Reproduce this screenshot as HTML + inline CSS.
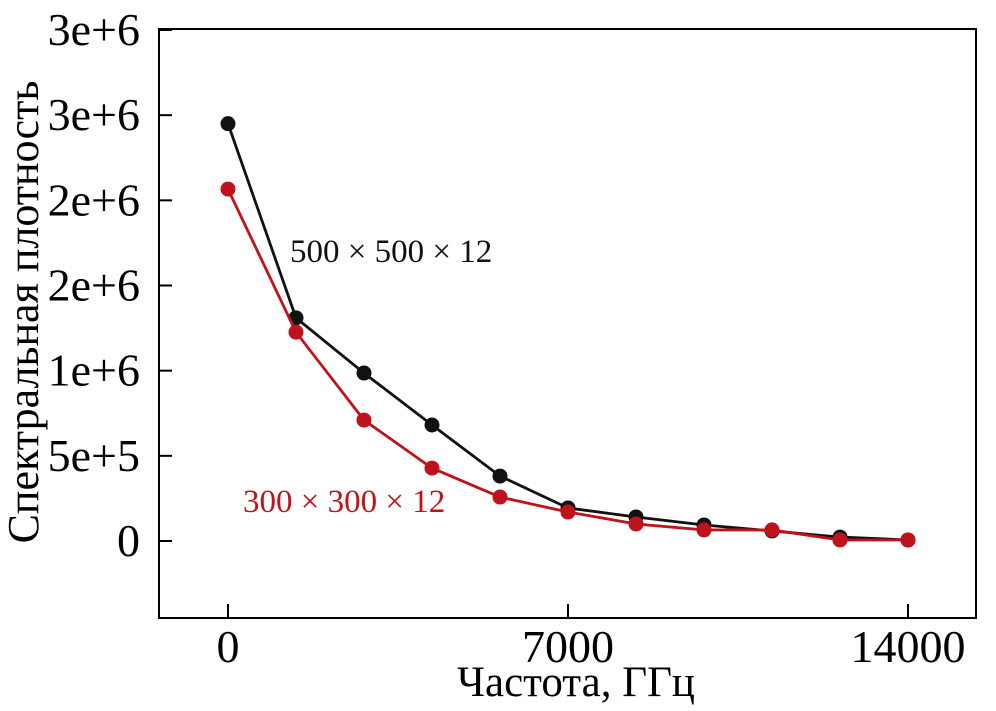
<!DOCTYPE html>
<html><head><meta charset="utf-8"><style>
body{margin:0;background:#fff}
svg text{font-family:"Liberation Serif","DejaVu Serif",serif;}
</style></head><body>
<svg id="chart" width="996" height="706" viewBox="0 0 996 706">
<rect x="159" y="29" width="817" height="589" fill="none" stroke="#000" stroke-width="2"/>
<g id="axes"></g>
<g id="series"></g>
<text x="290" y="262" font-size="33" fill="#111">500 × 500 × 12</text>
<text x="243" y="512" font-size="33" fill="#c0121c">300 × 300 × 12</text>
<text x="576" y="696" font-size="43" text-anchor="middle">Частота, ГГц</text>
<text transform="translate(38,312) rotate(-90)" font-size="44" text-anchor="middle">Спектральная плотность</text>
</svg>
<script>
const freqs=[0,1400,2800,4200,5600,7000,8400,9800,11200,12600,14000];
const black=[2.45e6,1.31e6,0.986e6,0.681e6,0.381e6,0.194e6,0.141e6,0.094e6,0.059e6,0.023e6,0.006e6];
const red=[2.066e6,1.226e6,0.71e6,0.428e6,0.258e6,0.17e6,0.10e6,0.065e6,0.065e6,0.006e6,0.006e6];
const yTicks=[0,0.5e6,1e6,1.5e6,2e6,2.5e6,3e6];
const yLabels=["0","5e+5","1e+6","2e+6","2e+6","3e+6","3e+6"];
const xTicks=[0,7000,14000];
const xLabels=["0","7000","14000"];
const NS="http://www.w3.org/2000/svg";
function X(v){return 228+v*(908-228)/14000;}
function Y(v){return 541-v*(541-30)/3e6;}
function mk(t,a,p){const e=document.createElementNS(NS,t);for(const k in a)e.setAttribute(k,a[k]);p.appendChild(e);return e;}
const ax=document.getElementById('axes'),sr=document.getElementById('series');
yTicks.forEach((v,i)=>{
 const l=mk('line',{x1:159,x2:172,y1:Y(v),y2:Y(v),stroke:'#000','stroke-width':2},ax);
 
 
 const t=mk('text',{x:140,y:Y(v)+15,'font-size':46,'text-anchor':'end'},ax);
 t.textContent=yLabels[i];
 
 
});
xTicks.forEach((v,i)=>{
 const l=mk('line',{x1:X(v),x2:X(v),y1:618,y2:604,stroke:'#000','stroke-width':2},ax);
 
 
 const t=mk('text',{x:X(v),y:662,'font-size':46,'text-anchor':'middle'},ax);
 t.textContent=xLabels[i];
 
 
});
function series(vals,col,name){
 const p=mk('polyline',{points:vals.map((v,i)=>X(freqs[i])+','+Y(v)).join(' '),fill:'none',stroke:col,'stroke-width':2.8},sr);
 
 
 vals.forEach((v,i)=>{
  const c=mk('circle',{cx:X(freqs[i]),cy:Y(v),r:7.5,fill:col},sr);
  
  
 });
}
series(black,'#111','series-500');
series(red,'#c0121c','series-300');
</script>
</body></html>
